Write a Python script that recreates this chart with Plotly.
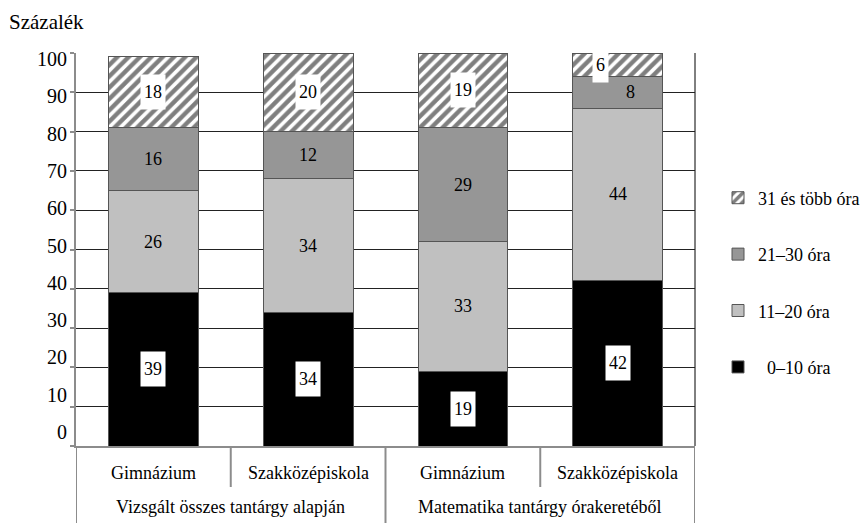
import plotly.graph_objects as go

# Categories (school type within each group) and the two group headings
schools = ["Gimnázium", "Szakközépiskola", "Gimnázium", "Szakközépiskola"]
groups = ["Vizsgált összes tantárgy alapján", "Matematika tantárgy órakeretéből"]

# Share of students (%) by weekly hours band, stacked bottom to top
h_0_10 = [39, 34, 19, 42]
h_11_20 = [26, 34, 33, 44]
h_21_30 = [16, 12, 29, 8]
h_31_plus = [18, 20, 19, 6]

y_ticks = [0, 10, 20, 30, 40, 50, 60, 70, 80, 90, 100]

FONT = "Liberation Serif, Times New Roman, serif"
x_pos = list(range(len(schools)))

series = [
    dict(name="\u00a0\u00a00–10 óra", values=h_0_10, color="#000000", pattern=None, boxed=True),
    dict(name="11–20 óra", values=h_11_20, color="#c0c0c0", pattern=None, boxed=False),
    dict(name="21–30 óra", values=h_21_30, color="#969696", pattern=None, boxed=False),
    dict(name="31 és több óra", values=h_31_plus, color="#ffffff",
         pattern=dict(shape="/", fgcolor="#000000", bgcolor="#ffffff", size=8, solidity=0.55),
         boxed=True),
]

fig = go.Figure()
n = len(series)
for i, s in enumerate(series):
    marker = dict(color=s["color"], line=dict(color="#555555", width=1))
    if s["pattern"]:
        marker["pattern"] = s["pattern"]
    fig.add_trace(go.Bar(
        x=x_pos, y=s["values"], name=s["name"], marker=marker,
        width=0.58, legendgroup=f"g{i}", legendrank=n - i, hoverinfo="skip",
    ))

# Invisible trace that carries the secondary label axis
fig.add_trace(go.Scatter(x=[0], y=[0], yaxis="y2", mode="markers",
                         marker=dict(opacity=0), showlegend=False, hoverinfo="skip"))

# Value labels centred in each stacked segment
annotations = []
base = [0] * len(schools)
for s in series:
    for j, v in enumerate(s["values"]):
        mid = base[j] + v / 2
        xshift = 0
        if s["values"] is h_21_30 and j == 3:
            xshift = 13
        if s["values"] is h_31_plus and j == 3:
            xshift = -17
        ann = dict(x=x_pos[j], y=mid, xref="x", yref="y", text=str(v), showarrow=False,
                   font=dict(family=FONT, size=18, color="#000000"), xshift=xshift)
        if s["boxed"]:
            ann.update(bgcolor="#ffffff", width=15 if v < 10 else 24, height=34, borderpad=0)
        annotations.append(ann)
        base[j] += v

# Category table below the plot
row1_y = (446 - 473) / 393
row2_y = (446 - 507) / 393
for j, name in enumerate(schools):
    annotations.append(dict(x=x_pos[j], y=row1_y, xref="x", yref="paper", text=name,
                            showarrow=False, yanchor="middle",
                            font=dict(family=FONT, size=18, color="#000000")))
for g, name in enumerate(groups):
    annotations.append(dict(x=2 * g + 0.5, y=row2_y, xref="x", yref="paper", text=name,
                            showarrow=False, yanchor="middle",
                            font=dict(family=FONT, size=18, color="#000000")))

annotations.append(dict(x=(7 - 76) / 619, y=(446 - 22) / 393, xref="paper", yref="paper",
                        text="Százalék", showarrow=False, xanchor="left", yanchor="middle",
                        font=dict(family=FONT, size=21, color="#000000")))

row1_bottom = (446 - 487) / 393
table_bottom = (446 - 523) / 393
shapes = []
for xd in [0.5, 2.5]:
    shapes.append(dict(type="line", xref="x", yref="paper", x0=xd, x1=xd, y0=0, y1=row1_bottom,
                       line=dict(color="#8c8c8c", width=2)))
for xd in [-0.5, 1.5, 3.5]:
    shapes.append(dict(type="line", xref="x", yref="paper", x0=xd, x1=xd, y0=0, y1=table_bottom,
                       line=dict(color="#8c8c8c", width=2)))
# Right border of the plot area
shapes.append(dict(type="line", xref="paper", yref="paper", x0=1, x1=1, y0=0, y1=1,
                   line=dict(color="#000000", width=1), layer="below"))

fig.update_layout(
    width=864, height=523,
    margin=dict(l=76, r=169, t=53, b=77, autoexpand=False),
    paper_bgcolor="#ffffff", plot_bgcolor="rgba(0,0,0,0)",
    barmode="stack",
    font=dict(family=FONT, size=18, color="#000000"),
    xaxis=dict(range=[-0.5, 3.5], showticklabels=False, showgrid=False, zeroline=False,
               showline=True, linecolor="#8c8c8c", linewidth=2, ticks=""),
    yaxis=dict(range=[0, 100], tickvals=y_ticks, showticklabels=False, showgrid=True,
               gridcolor="#222222", gridwidth=1, zeroline=False, showline=True,
               linecolor="#8c8c8c", linewidth=2, ticks="outside", ticklen=4,
               tickcolor="#8c8c8c", tickwidth=2),
    yaxis2=dict(range=[0, 100], tickvals=y_ticks, domain=[(446 - 432) / 393, (446 - 59) / 393],
                anchor="free", position=0, side="left", showgrid=False, zeroline=False,
                showline=False, ticks="", ticklabelstandoff=9,
                tickfont=dict(family=FONT, size=20, color="#000000")),
    legend=dict(x=(718 - 76) / 619, xanchor="left", y=0.416, yanchor="middle",
                traceorder="grouped", tracegroupgap=30,
                font=dict(family=FONT, size=18, color="#000000"), bgcolor="rgba(0,0,0,0)"),
    annotations=annotations,
    shapes=shapes,
    showlegend=True,
)

fig.write_html("out.html")
